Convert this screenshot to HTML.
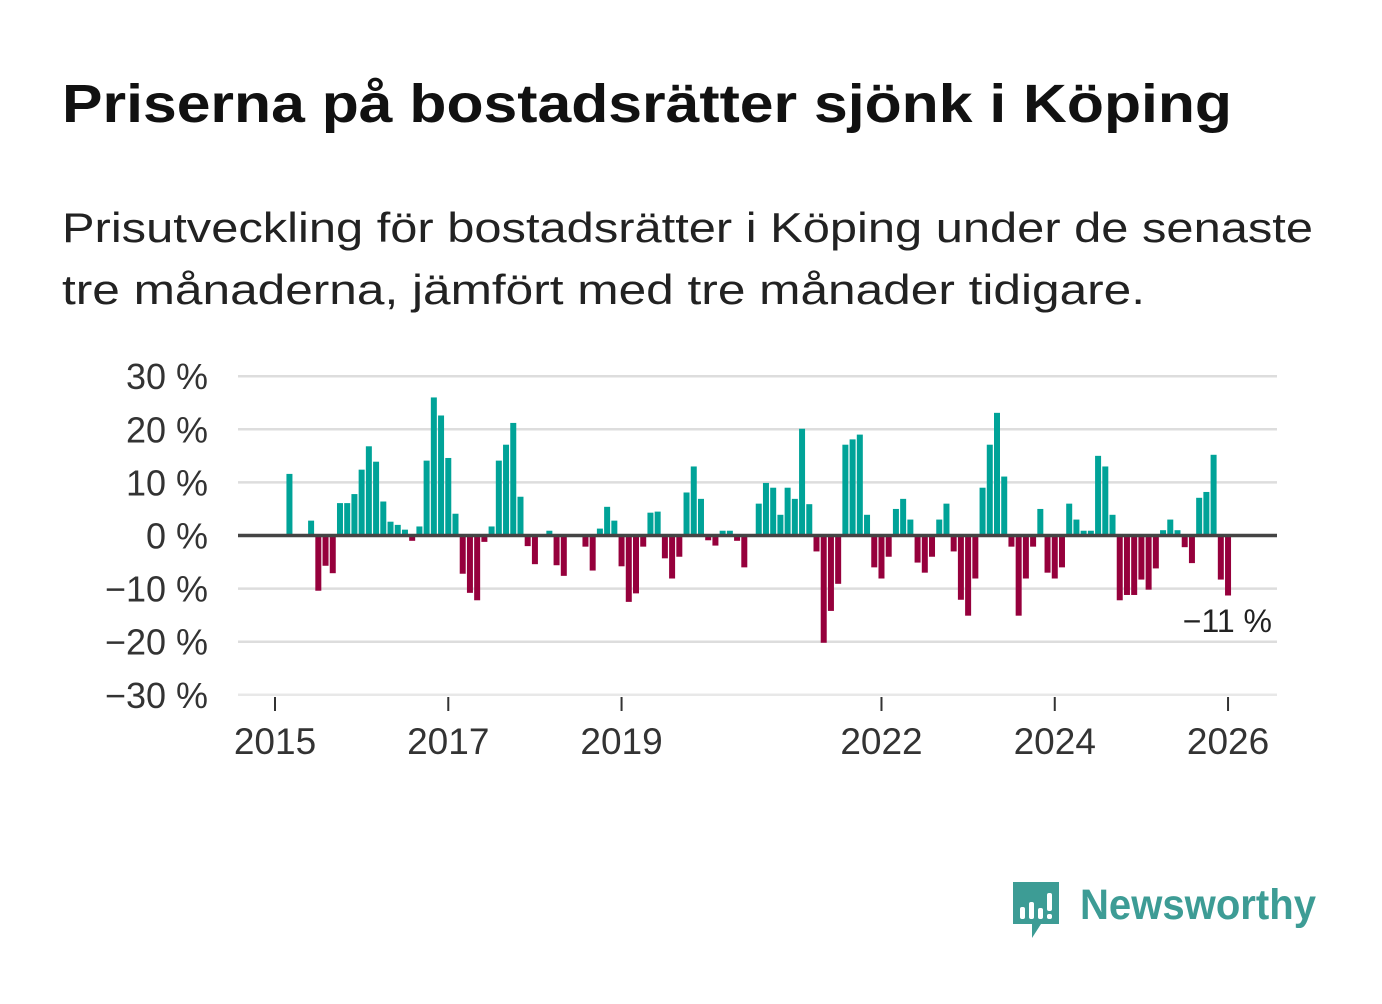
<!DOCTYPE html>
<html><head><meta charset="utf-8">
<style>
html,body{margin:0;padding:0;background:#fff;}
body{width:1382px;height:999px;overflow:hidden;}
svg text{font-family:"Liberation Sans",sans-serif;}
</style></head>
<body>
<svg id="chart" width="1382" height="999" viewBox="0 0 1382 999" xmlns="http://www.w3.org/2000/svg">
<text x="62" y="122" font-size="54" font-weight="bold" fill="#111" textLength="1170" lengthAdjust="spacingAndGlyphs">Priserna på bostadsrätter sjönk i Köping</text>
<text x="62" y="242" font-size="42" fill="#222" textLength="1251" lengthAdjust="spacingAndGlyphs">Prisutveckling för bostadsrätter i Köping under de senaste</text>
<text x="62" y="304" font-size="42" fill="#222" textLength="1083" lengthAdjust="spacingAndGlyphs">tre månaderna, jämfört med tre månader tidigare.</text>
<g id="grid"></g>
<g id="bars"></g>
<g id="axes"></g>
<text x="1272" y="632" font-size="32" fill="#222" text-anchor="end">−11 %</text>
<g>
<path d="M1013 882 h46 v42 h-18 l-9 14 v-14 h-19 z" fill="#3d9c95"/>
<rect x="1020" y="907" width="5" height="12" rx="2" fill="#fff"/>
<rect x="1029" y="902" width="5" height="17" rx="2" fill="#fff"/>
<rect x="1038" y="908" width="5" height="11" rx="2" fill="#fff"/>
<rect x="1047" y="893" width="5" height="18" rx="2" fill="#fff"/>
<rect x="1047" y="914" width="5" height="5" rx="2" fill="#fff"/>
<text x="1080" y="919" font-size="43" font-weight="bold" fill="#3d9c95" textLength="236" lengthAdjust="spacingAndGlyphs">Newsworthy</text>
</g>
</svg>
<script>
const values = [0,0,11.6,0,0,2.8,-10.4,-5.7,-7.1,6.1,6.1,7.8,12.4,16.8,13.9,6.4,2.6,2.0,1.1,-1.0,1.7,14.1,26.0,22.6,14.6,4.1,-7.2,-10.8,-12.2,-1.2,1.7,14.1,17.1,21.2,7.3,-2.0,-5.4,0,0.9,-5.6,-7.6,0,0,-2.1,-6.6,1.3,5.4,2.8,-5.8,-12.5,-10.9,-2.1,4.3,4.5,-4.3,-8.1,-4.0,8.1,13.0,6.9,-0.9,-1.9,0.9,0.9,-1.0,-6.0,0,6.0,9.9,9.0,3.9,9.0,6.9,20.1,5.9,-3.0,-20.2,-14.2,-9.1,17.1,18.1,19.0,3.9,-6.0,-8.1,-4.0,5.0,6.9,3.0,-5.1,-7.0,-4.0,3.0,6.0,-3.0,-12.1,-15.1,-8.1,9.0,17.1,23.1,11.1,-2.1,-15.1,-8.1,-2.1,5.0,-7.0,-8.1,-6.0,6.0,3.0,0.9,0.9,15.0,13.0,3.9,-12.2,-11.2,-11.2,-8.3,-10.2,-6.2,1.0,3.0,1.0,-2.2,-5.2,7.1,8.2,15.2,-8.3,-11.3];
const startYear = 2015;
const yTicks = [30,20,10,0,-10,-20,-30];
const yTickLabels = ["30 %","20 %","10 %","0 %","−10 %","−20 %","−30 %"];
const xTicks = [2015,2017,2019,2022,2024,2026];
const NS="http://www.w3.org/2000/svg";
const x0=275, monthW=7.22, zeroY=535.5, unit=5.31;
const xScale = m => x0 + m*monthW;
const yScale = v => zeroY - v*unit;
function mk(tag,attrs,parent){const e=document.createElementNS(NS,tag);for(const k in attrs)e.setAttribute(k,attrs[k]);parent.appendChild(e);return e;}
const grid=document.getElementById('grid'), bars=document.getElementById('bars'), axes=document.getElementById('axes');
yTicks.forEach((t,i)=>{
  if(t!==0){const l=mk('line',{x1:238,x2:1277,y1:yScale(t),y2:yScale(t),stroke:t===-30?'#e8e8e8':'#dddddd','stroke-width':2.5},grid);
  
  }
  const tx=mk('text',{x:208,y:yScale(t)+13,'font-size':36,fill:'#333','text-anchor':'end'},axes);
  tx.textContent=yTickLabels[i];
  
  
});
values.forEach((v,i)=>{
  if(v===0)return;
  const cx=xScale(i), y=yScale(v);
  const r=mk('rect',{x:cx-3,y:Math.min(y,zeroY),width:6,height:Math.abs(y-zeroY),fill:v>0?'#00a398':'#96003c'},bars);
  
  
});
const zl=mk('line',{x1:238,x2:1277,y1:zeroY,y2:zeroY,stroke:'#444','stroke-width':3.5},axes);


xTicks.forEach(y=>{
  const x=xScale((y-startYear)*12);
  const tk=mk('line',{x1:x,x2:x,y1:697,y2:711,stroke:'#333','stroke-width':2},axes);
  
  
  const tx=mk('text',{x:x,y:754,'font-size':37,fill:'#333','text-anchor':'middle'},axes);
  tx.textContent=y;
  
  
});
</script>
</body></html>
